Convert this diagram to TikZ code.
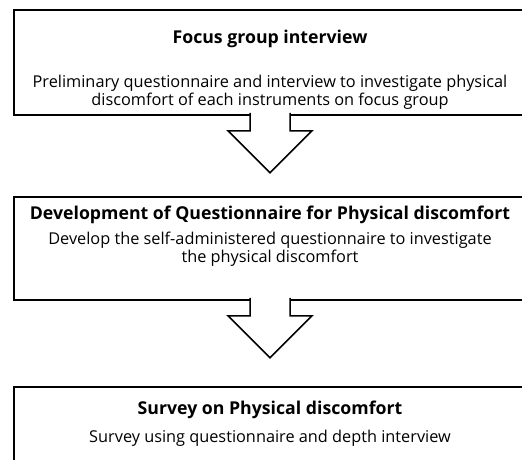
\documentclass[tikz,border=0pt]{standalone}
\usepackage{fontspec}
\setmainfont{Open Sans}
\usetikzlibrary{calc}
\begin{document}
\begin{tikzpicture}[x=1pt,y=-1pt,
  box/.style={draw=black,line width=1.6pt,fill=white,minimum width=512pt,inner sep=0pt},
  ttl/.style={font=\fontsize{17.7}{20}\selectfont\bfseries,inner sep=0pt},
  body/.style={font=\fontsize{16.3}{18}\selectfont,align=center,inner sep=0pt},
  blockarrow/.style={draw=black,line width=1.5pt,fill=white,line join=miter}]
\useasboundingbox (0,0) rectangle (522,460);
\clip (0,0) rectangle (522,460);
\fill[white] (0,0) rectangle (522,460);
% boxes
\node[box,minimum height=105pt] (b1) at (270,62.5) {};
\node[box,minimum height=103pt] (b2) at (270,248.5) {};
\node[box,minimum height=103pt] (b3) at (270,438.5) {};
% arrows
\foreach \b in {b1,b2}{
  \draw[blockarrow] ($(\b.south)+(-20,-3)$) -- ($(\b.south)+(-20,15)$) -- ($(\b.south)+(-42,15)$)
    -- ($(\b.south)+(0,57)$) -- ($(\b.south)+(42,15)$) -- ($(\b.south)+(20,15)$) -- ($(\b.south)+(20,-3)$);
}
% texts
\node[ttl] (t1) at (270,39) {Focus group interview};
\node[body] (d1) at (270,92) {Preliminary questionnaire and interview to investigate physical\\discomfort of each instruments on focus group};
\node[ttl] (t2) at (270,215) {Development of Questionnaire for Physical discomfort};
\node[body] (d2) at (270,249) {Develop the self-administered questionnaire to investigate\\the physical discomfort};
\node[ttl] (t3) at (270,410) {Survey on Physical discomfort};
\node[body] (d3) at (270,438) {Survey using questionnaire and depth interview};
\end{tikzpicture}
\end{document}
